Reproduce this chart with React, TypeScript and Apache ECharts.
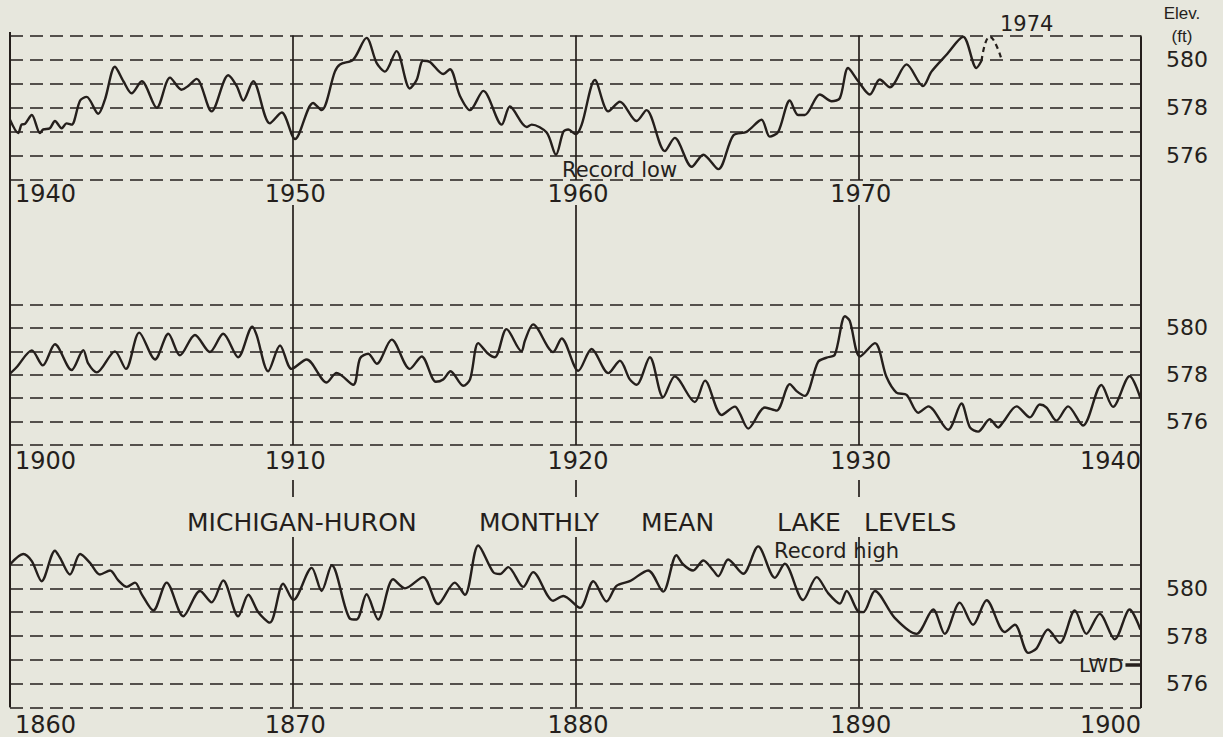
import React, { useEffect, useRef } from "react";
import * as echarts from "echarts";

const INK = "#251f1c";
const BG = "#e7e7dd";
const FONT = "DejaVu Sans";

// ---- Data ----
const panelStarts = [1940, 1900, 1860];
const elevTicks = [576, 578, 580];
const lowWaterDatum = 576.8;

const years1940 = [
  1940.0, 1940.29, 1940.41, 1940.53, 1940.77, 1941.06, 1941.18, 1941.41, 1941.59, 1941.83,
  1942.0, 1942.18, 1942.48, 1942.71, 1943.12, 1943.36, 1943.71, 1944.01, 1944.3, 1944.66,
  1945.19, 1945.66, 1946.07, 1946.3, 1946.6, 1947.13, 1947.72, 1948.02, 1948.25, 1948.6,
  1949.19, 1949.61, 1950.08, 1950.72, 1951.02, 1951.49, 1951.67, 1952.14, 1952.61, 1952.97,
  1953.26, 1953.67, 1954.14, 1954.38, 1954.61, 1954.85, 1955.32, 1955.56, 1955.91, 1956.27,
  1956.74, 1957.39, 1957.68, 1958.27, 1958.45, 1958.98, 1959.31, 1959.57, 1959.74, 1960.01,
  1960.22, 1960.69, 1961.16, 1961.57, 1962.16, 1962.51, 1963.16, 1963.51, 1964.11, 1964.52,
  1965.05, 1965.58, 1966.05, 1966.58, 1966.87, 1967.17, 1967.58, 1967.87, 1968.11, 1968.64,
  1969.06, 1969.35, 1969.64, 1970.0, 1970.41, 1970.76, 1971.12, 1971.71, 1972.29, 1972.59,
  1973.12, 1973.71, 1974.18, 1974.36,
];
const levels1940 = [
  577.5, 576.95, 577.3, 577.33, 577.7, 576.95, 577.1, 577.15, 577.45, 577.15,
  577.35, 577.3, 578.3, 578.45, 577.75, 578.35, 579.7, 579.1, 578.6, 579.1,
  578.0, 579.25, 578.75, 578.9, 579.2, 577.85, 579.35, 578.9, 578.3, 579.1,
  577.35, 577.8, 576.7, 578.2, 577.9, 579.5, 579.8, 580.0, 580.9, 579.85,
  579.5, 580.35, 578.8, 579.15, 579.95, 579.9, 579.4, 579.6, 578.5, 577.9,
  578.7, 577.3, 578.05, 577.2, 577.3, 576.97, 576.05, 577.0, 577.1, 576.9,
  577.3, 579.15, 577.85, 578.25, 577.45, 577.9, 576.2, 576.75, 575.55, 576.05,
  575.45, 576.85, 577.0, 577.5, 576.8, 577.0, 578.3, 577.7, 577.7, 578.55,
  578.27, 578.4, 579.65, 579.1, 578.55, 579.17, 578.85, 579.8, 578.9, 579.5,
  580.2, 580.95, 579.65, 579.95,
];
const years1974Dashed = [1974.36, 1974.65, 1975.07];
const levels1974Dashed = [579.95, 580.95, 580.0];

const years1900 = [
  1900.0, 1900.24, 1900.77, 1901.16, 1901.59, 1902.18, 1902.59, 1902.77, 1903.07, 1903.71,
  1904.1, 1904.57, 1905.13, 1905.6, 1906.01, 1906.54, 1907.07, 1907.54, 1908.07, 1908.57,
  1908.72, 1909.13, 1909.55, 1909.96, 1910.49, 1911.2, 1911.55, 1912.14, 1912.38, 1912.67,
  1912.97, 1913.5, 1914.14, 1914.56, 1915.06, 1915.32, 1915.58, 1916.03, 1916.27, 1916.56,
  1916.88, 1917.15, 1917.56, 1918.09, 1918.21, 1918.5, 1919.21, 1919.51, 1920.1, 1920.57,
  1921.16, 1921.57, 1921.92, 1922.16, 1922.63, 1923.1, 1923.51, 1924.22, 1924.58, 1925.17,
  1925.64, 1925.81, 1926.11, 1926.7, 1927.11, 1927.58, 1927.82, 1928.11, 1928.58, 1928.88,
  1929.17, 1929.53, 1929.7, 1930.06, 1930.59, 1931.0, 1931.35, 1931.71, 1932.12, 1932.48,
  1933.18, 1933.65, 1933.95, 1934.24, 1934.65, 1934.95, 1935.12, 1935.6, 1936.07, 1936.42,
  1936.66, 1937.01, 1937.42, 1937.95, 1938.6, 1939.01, 1939.6, 1939.98,
];
const levels1900 = [
  578.05, 578.33, 579.04, 578.4, 579.3, 578.2, 579.05, 578.47, 578.1, 579.0,
  578.25, 579.8, 578.65, 579.75, 578.83, 579.7, 578.97, 579.75, 578.75, 580.05,
  579.7, 578.15, 579.25, 578.25, 578.65, 577.67, 578.08, 577.57, 578.7, 578.9,
  578.47, 579.5, 578.25, 578.78, 577.7, 577.8, 578.15, 577.53, 577.8, 579.35,
  578.93, 578.75, 579.95, 579.0, 579.45, 580.15, 578.97, 579.55, 578.17, 579.1,
  578.07, 578.6, 577.8, 577.57, 578.75, 577.04, 577.93, 576.83, 577.75, 576.28,
  576.64, 576.35, 575.7, 576.6, 576.47, 577.6, 577.3, 577.1, 578.55, 578.73,
  578.85, 580.5, 580.3, 578.78, 579.35, 577.9, 577.24, 577.14, 576.38, 576.65,
  575.65, 576.77, 575.75, 575.57, 576.1, 575.75, 575.97, 576.65, 576.18, 576.73,
  576.6, 576.04, 576.65, 575.83, 577.56, 576.63, 577.94, 577.0,
];

const years1860 = [
  1860.0, 1860.47, 1860.77, 1861.12, 1861.59, 1861.77, 1862.12, 1862.48, 1862.83, 1863.18,
  1863.54, 1863.83, 1864.13, 1864.42, 1864.66, 1865.07, 1865.54, 1866.13, 1866.72, 1867.13,
  1867.54, 1868.07, 1868.43, 1868.78, 1869.19, 1869.66, 1870.02, 1870.67, 1871.02, 1871.38,
  1872.02, 1872.26, 1872.61, 1873.02, 1873.55, 1873.97, 1874.61, 1875.14, 1875.73, 1876.09,
  1876.56, 1877.09, 1877.33, 1877.62, 1878.15, 1878.5, 1879.21, 1879.57, 1880.16, 1880.63,
  1881.1, 1881.45, 1881.92, 1882.57, 1883.1, 1883.57, 1883.81, 1884.16, 1884.52, 1884.87,
  1885.05, 1885.4, 1885.93, 1886.46, 1887.05, 1887.4, 1888.05, 1888.53, 1888.94, 1889.35,
  1889.59, 1890.0, 1890.18, 1890.59, 1891.29, 1892.06, 1892.65, 1893.06, 1893.59, 1894.06,
  1894.54, 1895.18, 1895.54, 1896.01, 1896.3, 1896.71, 1897.13, 1897.66, 1898.07, 1898.54,
  1899.07, 1899.6, 1899.98,
];
const levels1860 = [
  581.0, 581.44, 581.14, 580.3, 581.58, 581.28, 580.58, 581.44, 581.07, 580.58,
  580.75, 580.33, 580.06, 580.24, 579.75, 579.07, 580.24, 578.83, 579.89, 579.41,
  580.33, 578.83, 579.73, 579.0, 578.56, 580.19, 579.51, 580.86, 579.89, 580.97,
  578.73, 578.69, 579.75, 578.69, 580.38, 580.0, 580.47, 579.34, 580.24, 579.73,
  581.8, 580.68, 580.6, 580.89, 580.06, 580.68, 579.48, 579.68, 579.18, 580.3,
  579.45, 580.1, 580.3, 580.75, 579.86, 581.39, 581.0, 580.75, 581.17, 580.75,
  580.51, 581.21, 580.61, 581.76, 580.44, 581.03, 579.51, 580.47, 579.79, 579.36,
  579.89, 579.03, 579.0, 579.89, 578.76, 578.09, 579.11, 578.09, 579.4, 578.47,
  579.5, 578.17, 578.47, 577.29, 577.47, 578.27, 577.71, 579.07, 578.09, 578.93,
  577.86, 579.11, 578.27,
];

const zip = (xs: number[], ys: number[]) => xs.map((x, i) => [x, ys[i]]);

export default function App() {
  const ref = useRef<HTMLDivElement>(null);

  useEffect(() => {
    if (!ref.current) return;
    const chart = echarts.init(ref.current, null, { renderer: "svg" });

    const L = 10;
    const W = 1131;
    const panelGrids = [
      { top: 35.5, height: 144.5, labelMargin: 2 },
      { top: 304.5, height: 140.5, labelMargin: 4 },
      { top: 564.5, height: 143, labelMargin: 5 },
    ];
    const gapGrids = [
      { top: 205, height: 99.5 },
      { top: 480, height: 17 },
      { top: 537, height: 27.5 },
    ];

    const grid: any[] = [];
    const xAxis: any[] = [];
    const yAxis: any[] = [];

    panelGrids.forEach((g, i) => {
      grid.push({ left: L, width: W, top: g.top, height: g.height, containLabel: false, outerBoundsMode: "none" });
      xAxis.push({
        gridIndex: i,
        type: "value",
        min: panelStarts[i],
        max: panelStarts[i] + 40,
        interval: 10,
        axisLine: { show: false },
        axisTick: { show: false },
        splitLine: { show: true, lineStyle: { color: INK, width: 1.7, type: "solid" } },
        axisLabel: {
          show: true,
          color: INK,
          fontFamily: FONT,
          fontSize: 24,
          lineHeight: 24,
          margin: g.labelMargin,
          padding: [0, 0, 0, 5],
          showMaxLabel: i !== 0,
          alignMinLabel: "left",
          alignMaxLabel: "right",
          formatter: (v: number) => String(v),
        },
      });
      yAxis.push({
        gridIndex: i,
        type: "value",
        position: "right",
        min: 575,
        max: 581,
        interval: 1,
        axisLine: { show: false },
        axisTick: { show: false },
        splitLine: { show: true, lineStyle: { color: INK, width: 1.7, type: [13, 7] } },
        axisLabel: {
          show: true,
          color: INK,
          fontFamily: FONT,
          fontSize: 22,
          margin: 25,
          align: "left",
          formatter: (v: number) => (elevTicks.includes(v) ? String(v) : ""),
        },
      });
    });

    gapGrids.forEach((g, j) => {
      const gi = 3 + j;
      grid.push({ left: L, width: W, top: g.top, height: g.height, containLabel: false, outerBoundsMode: "none" });
      xAxis.push({
        gridIndex: gi,
        type: "value",
        min: 1900,
        max: 1940,
        interval: 10,
        axisLine: { show: false },
        axisTick: { show: false },
        axisLabel: { show: false },
        splitLine: { show: true, lineStyle: { color: INK, width: 1.7, type: "solid" } },
      });
      yAxis.push({
        gridIndex: gi,
        type: "value",
        min: 0,
        max: 1,
        axisLine: { show: false },
        axisTick: { show: false },
        axisLabel: { show: false },
        splitLine: { show: false },
      });
    });

    const lineBase = {
      type: "line",
      showSymbol: false,
      symbol: "none",
      smooth: 0.3,
      clip: false,
      silent: true,
      lineStyle: { color: INK, width: 2.4 },
    };

    const series: any[] = [
      { ...lineBase, name: "1940-1974", xAxisIndex: 0, yAxisIndex: 0, data: zip(years1940, levels1940) },
      {
        ...lineBase,
        name: "1974 (dashed)",
        xAxisIndex: 0,
        yAxisIndex: 0,
        smooth: 0.5,
        data: zip(years1974Dashed, levels1974Dashed),
        lineStyle: { color: INK, width: 2.2, type: [5, 4] },
      },
      { ...lineBase, name: "1900-1940", xAxisIndex: 1, yAxisIndex: 1, data: zip(years1900, levels1900) },
      {
        ...lineBase,
        name: "1860-1900",
        xAxisIndex: 2,
        yAxisIndex: 2,
        data: zip(years1860, levels1860),
        markLine: {
          silent: true,
          symbol: ["none", "none"],
          animation: false,
          lineStyle: { color: INK, width: 3.5, type: "solid" },
          label: {
            show: true,
            position: "start",
            formatter: "LWD",
            color: INK,
            fontFamily: FONT,
            fontSize: 20,
            distance: 2,
          },
          data: [[{ coord: [1899.45, lowWaterDatum] }, { coord: [1900, lowWaterDatum] }]],
        },
      },
    ];

    const txt = (text: string, x: number, y: number, size: number, align = "left", family = FONT) => ({
      type: "text",
      x,
      y,
      silent: true,
      style: { text, fill: INK, fontSize: size, fontFamily: family, align, verticalAlign: "middle" },
    });

    const graphic: any[] = [
      { type: "line", silent: true, shape: { x1: 10, y1: 32, x2: 10, y2: 707 }, style: { stroke: INK, lineWidth: 2 } },
      { type: "line", silent: true, shape: { x1: 1141, y1: 37, x2: 1141, y2: 708 }, style: { stroke: INK, lineWidth: 2 } },
      txt("MICHIGAN-HURON", 187, 522, 25),
      txt("MONTHLY", 479, 522, 25),
      txt("MEAN", 641, 522, 25),
      txt("LAKE", 777, 522, 25),
      txt("LEVELS", 864, 522, 25),
      txt("Record low", 562, 170, 21),
      txt("Record high", 774, 551, 21),
      txt("1974", 1000, 24, 21),
      txt("Elev.", 1182, 13, 17, "center", "Liberation Sans Narrow, Liberation Sans"),
      txt("(ft)", 1182, 36, 17, "center", "Liberation Sans Narrow, Liberation Sans"),
    ];

    chart.setOption({
      animation: false,
      backgroundColor: BG,
      grid,
      xAxis,
      yAxis,
      series,
      graphic,
    });

    return () => chart.dispose();
  }, []);

  return (
    <div
      ref={ref}
      style={{ position: "absolute", left: 0, top: 0, width: 1223, height: 737, background: BG }}
    />
  );
}
